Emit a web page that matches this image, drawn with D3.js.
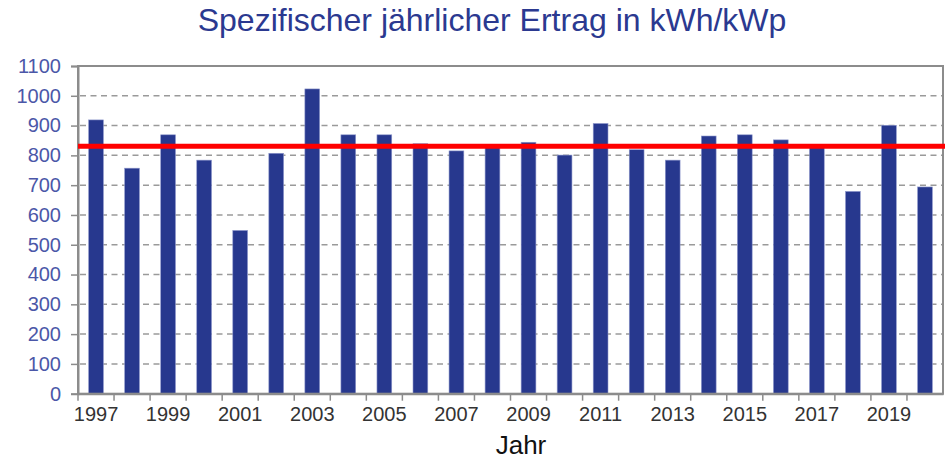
<!DOCTYPE html>
<html>
<head>
<meta charset="utf-8">
<script src="https://cdn.jsdelivr.net/npm/d3@7"></script>
<style>
  body { margin: 0; background: #fff; }
  text { font-family: "Liberation Sans", Arial, sans-serif; }
</style>
</head>
<body>
<div id="container"></div>
<script>
const years = d3.range(1997, 2021)
const yields = [919, 757, 869, 784, 548, 807, 1023, 869, 869, 839, 815, 828,
  844, 801, 907, 819, 784, 865, 869, 852, 826, 679, 901, 694]
const average = 831
const yTicks = d3.range(0, 1101, 100)

const title = 'Spezifischer jährlicher Ertrag in kWh/kWp'
const xTitle = 'Jahr'

const W = 945, H = 459
const margin = { left: 78, top: 66, right: 2, bottom: 65 }

const svg = d3.select('#container').append('svg')
  .attr('width', W)
  .attr('height', H)

const x = d3.scaleBand()
  .domain(years)
  .range([margin.left, W - margin.right])
  .paddingInner(0.59)
  .paddingOuter(0.295)

const y = d3.scaleLinear()
  .domain([0, 1100])
  .range([H - margin.bottom - 0.3, margin.top])

// dashed grid
svg.append('g')
  .selectAll('line')
  .data(yTicks.filter(d => d > 0 && d < 1100))
  .enter().append('line')
  .attr('x1', margin.left + 2)
  .attr('x2', W - margin.right)
  .attr('y1', d => y(d))
  .attr('y2', d => y(d))
  .style('stroke', '#9a9a9a')
  .style('stroke-width', 1.5)
  .style('stroke-dasharray', '6,4.5')

// bars
svg.append('g')
  .selectAll('rect')
  .data(years)
  .enter().append('rect')
  .attr('x', d => x(d))
  .attr('width', x.bandwidth())
  .attr('y', (d, i) => y(yields[i]))
  .attr('height', (d, i) => y(0) - y(yields[i]))
  .style('fill', '#27388e')
  .style('stroke', '#8f98cc')
  .style('stroke-width', 0.6)

// plot frame
svg.append('rect')
  .attr('x', margin.left)
  .attr('y', margin.top)
  .attr('width', W - margin.right - margin.left)
  .attr('height', y(0) - margin.top)
  .style('fill', 'none')
  .style('stroke', '#8c8c8c')
  .style('stroke-width', 2)

// y axis
const yAxis = svg.append('g')
  .attr('transform', `translate(${margin.left},0)`)
  .call(d3.axisLeft(y).tickValues(yTicks).tickFormat(d3.format('d'))
    .tickSize(7).tickPadding(10))
yAxis.select('.domain').style('stroke', '#8c8c8c').style('stroke-width', 2)
yAxis.selectAll('.tick line').style('stroke', '#8c8c8c').style('stroke-width', 1.5)
yAxis.selectAll('.tick text')
  .style('font-size', '20px')
  .style('fill', '#4b57a8')

// x axis: labels on odd years, ticks on band edges
const xAxis = svg.append('g')
  .attr('transform', `translate(0,${y(0)})`)
  .call(d3.axisBottom(x).tickSize(0).tickPadding(13)
    .tickFormat(d => d % 2 === 1 ? d : ''))
xAxis.select('.domain').style('stroke', '#8c8c8c').style('stroke-width', 2)
xAxis.selectAll('.tick text')
  .style('font-size', '20px')
  .style('fill', '#333')

const half = (x.step() - x.bandwidth()) / 2
const edges = years.map(d => x(d) - half)
xAxis.selectAll('.edge')
  .data(edges)
  .enter().append('line')
  .attr('class', 'edge')
  .attr('x1', d => d)
  .attr('x2', d => d)
  .attr('y1', 0)
  .attr('y2', 7)
  .style('stroke', '#8c8c8c')
  .style('stroke-width', 1.5)

// average line
svg.append('line')
  .attr('x1', margin.left)
  .attr('x2', W)
  .attr('y1', y(average))
  .attr('y2', y(average))
  .style('stroke', '#ff0000')
  .style('stroke-width', 5)

// titles
svg.append('text')
  .attr('x', 492)
  .attr('y', 31)
  .attr('text-anchor', 'middle')
  .style('font-size', '32px')
  .style('fill', '#2b3990')
  .text(title)

svg.append('text')
  .attr('x', 521)
  .attr('y', 454)
  .attr('text-anchor', 'middle')
  .style('font-size', '26px')
  .style('fill', '#111')
  .text(xTitle)
</script>
</body>
</html>
